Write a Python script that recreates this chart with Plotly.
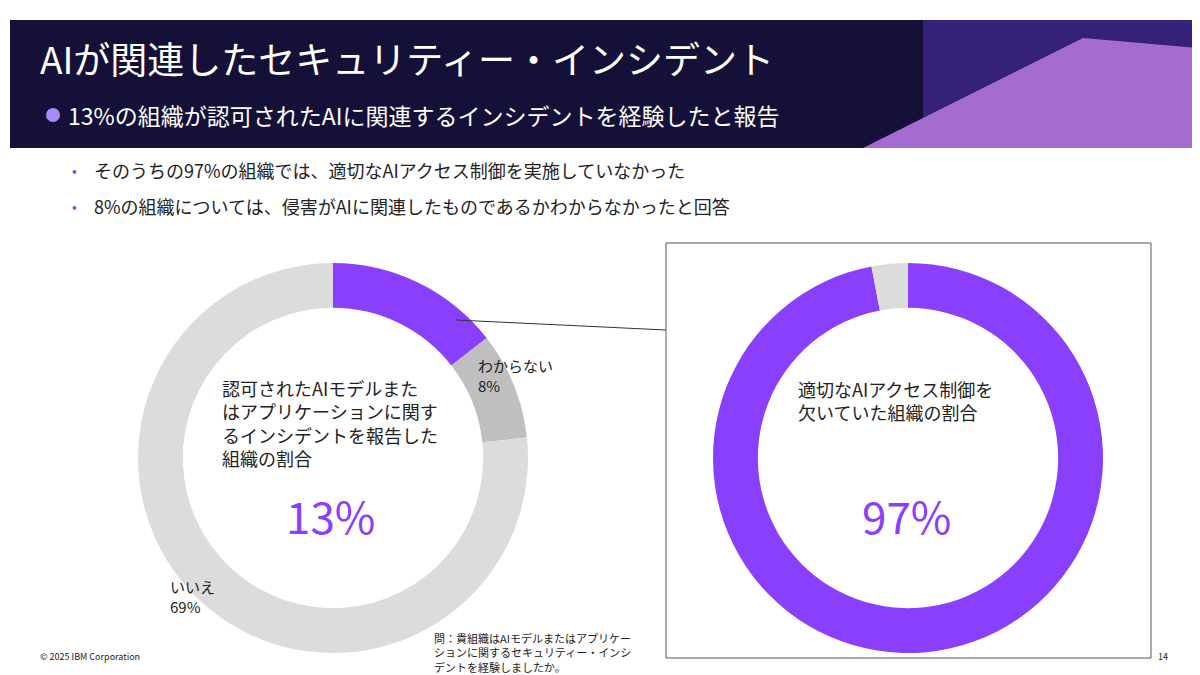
import plotly.graph_objects as go

left_labels = ['はい', 'わからない', 'いいえ']
left_values = [13, 8, 69]
right_labels = ['欠いていた', 'その他']
right_values = [97, 3]

purple = '#8a3ffc'
W, H = 1200, 675

def px(x):
    return x / W

def py(y):
    return 1 - y / H

fig = go.Figure()
fig.add_trace(go.Pie(labels=left_labels, values=left_values, hole=0.77, sort=False,
                     direction='clockwise', rotation=0, textinfo='none', hoverinfo='label+value',
                     marker=dict(colors=[purple, '#bfbfbf', '#dcdcdc']),
                     domain=dict(x=[px(130), px(520)], y=[py(645), py(255)])))
fig.add_trace(go.Pie(labels=right_labels, values=right_values, hole=0.77, sort=False,
                     direction='clockwise', rotation=0, textinfo='none', hoverinfo='label+value',
                     marker=dict(colors=[purple, '#dcdcdc']),
                     domain=dict(x=[px(705), px(1095)], y=[py(645), py(255)])))

font = 'Noto Sans CJK JP'
shapes = [
    dict(type='rect', xref='paper', yref='paper', x0=px(2), x1=px(1190), y0=py(140), y1=py(12),
         fillcolor='#141038', line=dict(width=0), layer='below'),
    dict(type='rect', xref='paper', yref='paper', x0=px(915), x1=px(1190), y0=py(140), y1=py(12),
         fillcolor='#35207a', line=dict(width=0), layer='below'),
    dict(type='path', xref='paper', yref='paper',
         path=f'M {px(855)},{py(140)} L {px(1075)},{py(30)} L {px(1190)},{py(40)} L {px(1190)},{py(140)} Z',
         fillcolor='#a56bd0', line=dict(width=0), layer='below'),
    dict(type='circle', xref='paper', yref='paper', x0=px(38), x1=px(52), y0=py(114), y1=py(100),
         fillcolor='#a78bfa', line=dict(width=0)),
    dict(type='rect', xref='paper', yref='paper', x0=px(658), x1=px(1143), y0=py(650), y1=py(235),
         line=dict(color='#555555', width=1)),
    dict(type='line', xref='paper', yref='paper', x0=px(448), x1=px(658), y0=py(312), y1=py(322),
         line=dict(color='#333333', width=1)),
]

def txt(x, y, s, size, color='#222222', xa='left', ya='middle'):
    return dict(x=px(x), y=py(y), xref='paper', yref='paper', text=s, showarrow=False,
                xanchor=xa, yanchor=ya, align='left', font=dict(family=font, size=size, color=color))

annotations = [
    txt(30, 50, 'AIが関連したセキュリティー・インシデント', 37, 'white'),
    txt(58, 107, '13%の組織が認可されたAIに関連するインシデントを経験したと報告', 23, 'white'),
    txt(62, 162, '•', 14, purple),
    txt(84, 162, 'そのうちの97%の組織では、適切なAIアクセス制御を実施していなかった', 18),
    txt(62, 198, '•', 14, purple),
    txt(84, 198, '8%の組織については、侵害がAIに関連したものであるかわからなかったと回答', 18),
    txt(212, 415, '認可されたAIモデルまた<br>はアプリケーションに関す<br>るインシデントを報告した<br>組織の割合', 18),
    txt(322, 507, '13%', 44, purple, 'center'),
    txt(468, 367, 'わからない<br>8%', 15),
    txt(160, 588, 'いいえ<br>69%', 15),
    txt(788, 392, '適切なAIアクセス制御を<br>欠いていた組織の割合', 18),
    txt(898, 507, '97%', 44, purple, 'center'),
    txt(424, 644, '問：貴組織はAIモデルまたはアプリケー<br>ションに関するセキュリティー・インシ<br>デントを経験しましたか。', 11),
    txt(30, 648, '© 2025 IBM Corporation', 9),
    txt(1148, 648, '14', 9),
]

fig.update_layout(width=W, height=H, margin=dict(l=0, r=0, t=0, b=0), showlegend=False,
                  paper_bgcolor='white', plot_bgcolor='white', shapes=shapes, annotations=annotations)
fig.write_html('out.html')
